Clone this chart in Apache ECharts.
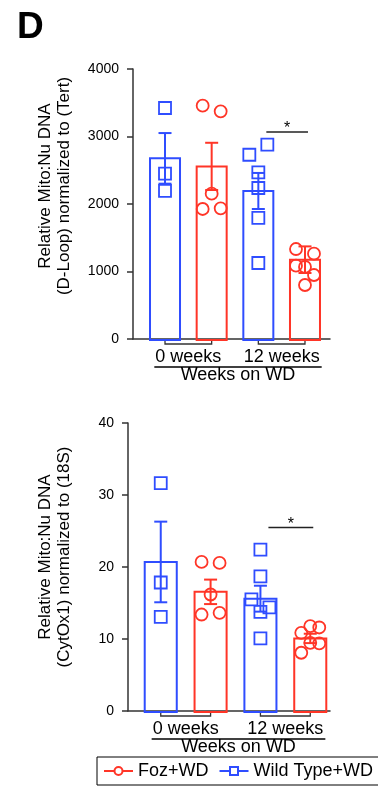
<!DOCTYPE html>
<html><head><meta charset="utf-8">
<script src="https://cdn.jsdelivr.net/npm/echarts@6/dist/echarts.min.js"></script>
<style>html,body{margin:0;padding:0;background:#fff}#c{width:378px;height:789px}</style>
</head><body><div id="c"></div>
<script>
// ---------- data ----------
const categories = ['0 weeks', '12 weeks'];
const seriesNames = ['Wild Type+WD', 'Foz+WD'];
const xAxisTitle = 'Weeks on WD';
const panelLabel = 'D';

// Panel 1: D-Loop normalized to Tert
const dloopTitle = ['Relative Mito:Nu DNA', '(D-Loop) normalized to (Tert)'];
const dloopTicks = [0, 1000, 2000, 3000, 4000];
const dloopWT_0w  = [3422, 2449, 2193];
const dloopFoz_0w = [3457, 3373, 2153, 1926, 1936];
const dloopWT_12w = [2730, 2879, 2469, 2237, 1793, 1126];
const dloopFoz_12w = [1333, 1264, 1086, 1067, 948, 800];
const dloopMeanWT  = [2676, 2193];
const dloopMeanFoz = [2557, 1175];
const dloopSemWT   = [375, 267];
const dloopSemFoz  = [350, 197];
const dloopSig = [3067];   // height of "*" bar (12 weeks comparison)

// Panel 2: CytOx1 normalized to 18S
const cytTitle = ['Relative Mito:Nu DNA', '(CytOx1) normalized to (18S)'];
const cytTicks = [0, 10, 20, 30, 40];
const cytWT_0w  = [31.66, 17.85, 13.08];
const cytFoz_0w = [20.7, 20.57, 16.18, 13.4, 13.63];
const cytWT_12w = [22.4, 18.7, 15.5, 14.38, 13.77, 10.08];
const cytFoz_12w = [10.86, 11.79, 11.6, 8.09, 9.47, 9.39];
const cytMeanWT  = [20.7, 15.6];
const cytMeanFoz = [16.55, 10.08];
const cytSemWT   = [5.6, 1.8];
const cytSemFoz  = [1.7, 0.65];
const cytSig = [25.5];

// ---------- styles ----------
const COLORS = ['#2f4dff', '#ff3527']; // WT blue, Foz red
const FONT = '"Liberation Sans", Arial, Helvetica, sans-serif';
const BAR_RATIO = 0.643;
const AXIS_COLOR = '#333';

function buildGroups(wt, foz, mWT, mFoz, sWT, sFoz) {
  // order: WT 0w, Foz 0w, WT 12w, Foz 12w
  const g = [];
  for (let c = 0; c < categories.length; c++) {
    g.push({pos: 2 * c + 1, s: 0, pts: wt[c], mean: mWT[c], sem: sWT[c]});
    g.push({pos: 2 * c + 2, s: 1, pts: foz[c], mean: mFoz[c], sem: sFoz[c]});
  }
  return g;
}
const panels = [
  {groups: buildGroups([dloopWT_0w, dloopWT_12w], [dloopFoz_0w, dloopFoz_12w], dloopMeanWT, dloopMeanFoz, dloopSemWT, dloopSemFoz),
   sig: dloopSig[0], ticks: dloopTicks, title: dloopTitle},
  {groups: buildGroups([cytWT_0w, cytWT_12w], [cytFoz_0w, cytFoz_12w], cytMeanWT, cytMeanFoz, cytSemWT, cytSemFoz),
   sig: cytSig[0], ticks: cytTicks, title: cytTitle}
];

function swarm(ys) {
  const order = ys.map((y, i) => i).sort((a, b) => ys[a] - ys[b]);
  const rows = [];
  let cur = null;
  order.forEach(i => {
    if (cur && ys[i] - cur.start < 12) cur.m.push(i);
    else { cur = {start: ys[i], m: [i]}; rows.push(cur); }
  });
  const off = new Array(ys.length).fill(0);
  rows.forEach(r => {
    r.m.sort((a, b) => a - b);
    const n = r.m.length;
    const s = n > 1 ? 18 / (n - 1) : 0;
    r.m.forEach((i, k) => { off[i] = (k - (n - 1) / 2) * s; });
  });
  return off;
}

const measCtx = document.createElement('canvas').getContext('2d');
function textW(t, size) { measCtx.font = size + 'px ' + FONT; return measCtx.measureText(t).width; }

const grids = [
  {left: 133, top: 69, width: 197, height: 270},
  {left: 128, top: 423, width: 202, height: 288}
];
const xRanges = [[0.314, 4.536], [0.343, 4.396]];

const series = [];
const xAxis = [], yAxis = [];
panels.forEach((p, pi) => {
  xAxis.push({gridIndex: pi, type: 'value', min: xRanges[pi][0], max: xRanges[pi][1],
    axisLine: {show: true, onZero: false, lineStyle: {color: AXIS_COLOR, width: 1.5}},
    axisTick: {show: false}, axisLabel: {show: false}, splitLine: {show: false}});
  const t = p.ticks;
  yAxis.push({gridIndex: pi, type: 'value', min: t[0], max: t[t.length - 1], interval: t[1] - t[0],
    axisLine: {show: true, lineStyle: {color: AXIS_COLOR, width: 1.5}},
    axisTick: {show: true, length: 6, lineStyle: {color: AXIS_COLOR, width: 1.5}},
    axisLabel: {color: '#000', fontSize: 14, fontFamily: FONT, margin: 14, formatter: v => String(v)},
    splitLine: {show: false}});

  // bars + error bars
  series.push({type: 'custom', xAxisIndex: pi, yAxisIndex: pi, clip: false, z: 2,
    data: p.groups.map(g => [g.pos, g.mean, g.sem, g.s]),
    renderItem: function (params, api) {
      const x = api.value(0), m = api.value(1), s = api.value(2), si = api.value(3);
      const color = COLORS[si];
      const base = api.coord([x, 0]), top = api.coord([x, m]);
      const hi = api.coord([x, m + s]), lo = api.coord([x, m - s]);
      const w = api.size([BAR_RATIO, 0])[0];
      const cap = 6.5;
      const st = {stroke: color, lineWidth: 2, fill: null};
      return {type: 'group', children: [
        {type: 'rect', shape: {x: base[0] - w / 2, y: top[1], width: w, height: base[1] - top[1] + 1}, style: {stroke: color, lineWidth: 2, fill: 'transparent'}},
        {type: 'line', shape: {x1: hi[0], y1: hi[1], x2: lo[0], y2: lo[1]}, style: st},
        {type: 'line', shape: {x1: hi[0] - cap, y1: hi[1], x2: hi[0] + cap, y2: hi[1]}, style: st},
        {type: 'line', shape: {x1: lo[0] - cap, y1: lo[1], x2: lo[0] + cap, y2: lo[1]}, style: st}
      ]};
    }});

  // points
  const pdata = [];
  p.groups.forEach((g, gi) => g.pts.forEach((v, k) => pdata.push([g.pos, v, g.s, gi, k])));
  series.push({type: 'custom', xAxisIndex: pi, yAxisIndex: pi, clip: false, z: 3,
    data: pdata,
    renderItem: function (params, api) {
      const x = api.value(0), v = api.value(1), si = api.value(2), gi = api.value(3), k = api.value(4);
      const vals = p.groups[gi].pts;
      const ys = vals.map(val => api.coord([x, val])[1]);
      const off = swarm(ys)[k];
      const c = api.coord([x, v]);
      const color = COLORS[si];
      const cx = c[0] + off, cy = c[1];
      if (si === 1) {
        return {type: 'circle', shape: {cx: cx, cy: cy, r: 6}, style: {stroke: color, lineWidth: 1.8, fill: 'transparent'}};
      }
      return {type: 'rect', shape: {x: cx - 6, y: cy - 6, width: 12, height: 12}, style: {stroke: color, lineWidth: 1.8, fill: 'transparent'}};
    }});

  // category brackets + labels
  series.push({type: 'custom', xAxisIndex: pi, yAxisIndex: pi, clip: false, z: 1, silent: true,
    data: categories.map((c, ci) => [ci]),
    renderItem: function (params, api) {
      const ci = api.value(0);
      const a = api.coord([2 * ci + 1, 0]), b = api.coord([2 * ci + 2, 0]);
      const y0 = a[1];
      return {type: 'group', children: [
        {type: 'polyline', shape: {points: [[a[0], y0 + 1], [a[0], y0 + 5], [b[0], y0 + 5], [b[0], y0 + 1]]}, style: {stroke: AXIS_COLOR, lineWidth: 1.3, fill: null}},
        {type: 'text', x: (a[0] + b[0]) / 2, y: y0 + 18.5, style: {text: categories[ci], font: '18px ' + FONT, fill: '#000', align: 'center', verticalAlign: 'middle'}}
      ]};
    }});

  // axis title with underline
  series.push({type: 'custom', xAxisIndex: pi, yAxisIndex: pi, clip: false, z: 1, silent: true,
    data: [[0]],
    renderItem: function (params, api) {
      const n = categories.length;
      const a = api.coord([1.5, 0]), b = api.coord([2 * n - 0.5, 0]);
      const left = a[0] - textW(categories[0], 18) / 2 - 1;
      const right = b[0] + textW(categories[n - 1], 18) / 2 + 2;
      const y0 = a[1];
      return {type: 'group', children: [
        {type: 'line', shape: {x1: left, y1: y0 + 28, x2: right, y2: y0 + 28}, style: {stroke: '#000', lineWidth: 1.3}},
        {type: 'text', x: (left + right) / 2, y: y0 + 36.5, style: {text: xAxisTitle, font: '18px ' + FONT, fill: '#000', align: 'center', verticalAlign: 'middle'}}
      ]};
    }});

  // significance bar
  series.push({type: 'custom', xAxisIndex: pi, yAxisIndex: pi, clip: false, z: 4, silent: true,
    data: [[3, 4, p.sig]],
    renderItem: function (params, api) {
      const a = api.coord([api.value(0), api.value(2)]), b = api.coord([api.value(1), api.value(2)]);
      const x1 = a[0] + 8, x2 = b[0] + 3;
      return {type: 'group', children: [
        {type: 'line', shape: {x1: x1, y1: a[1], x2: x2, y2: a[1]}, style: {stroke: '#222', lineWidth: 1.5}},
        {type: 'text', x: (x1 + x2) / 2, y: a[1] - 3, style: {text: '*', font: '16px ' + FONT, fill: '#000', align: 'center', verticalAlign: 'middle'}}
      ]};
    }});
});

// legend-only series
series.push({name: 'Foz+WD', type: 'line', xAxisIndex: 0, yAxisIndex: 0, data: [], symbol: 'emptyCircle', symbolSize: 9,
  itemStyle: {color: COLORS[1], borderWidth: 1.5}, lineStyle: {color: COLORS[1], width: 1.5}});
series.push({name: 'Wild Type+WD', type: 'line', xAxisIndex: 0, yAxisIndex: 0, data: [], symbol: 'emptyRect', symbolSize: 9,
  itemStyle: {color: COLORS[0], borderWidth: 1.5}, lineStyle: {color: COLORS[0], width: 1.5}});

const chart = echarts.init(document.getElementById('c'), null, {renderer: 'canvas'});
chart.setOption({
  animation: false,
  backgroundColor: '#fff',
  grid: grids,
  xAxis: xAxis,
  yAxis: yAxis,
  legend: {data: [seriesNames[1], seriesNames[0]], left: 97, top: 757, width: 320, orient: 'horizontal',
    padding: [5, 6], itemGap: 10, itemWidth: 29, itemHeight: 10,
    borderColor: '#000', borderWidth: 1,
    textStyle: {color: '#000', fontSize: 18, fontFamily: FONT}},
  graphic: [
    {type: 'text', left: 17, top: 9, style: {text: panelLabel, font: 'bold 37px ' + FONT, fill: '#000'}},
    {type: 'text', x: 55, y: 186, rotation: Math.PI / 2, style: {text: panels[0].title.join('\n'), font: '17px ' + FONT, lineHeight: 19, fill: '#000', align: 'center', verticalAlign: 'middle'}},
    {type: 'text', x: 55, y: 557, rotation: Math.PI / 2, style: {text: panels[1].title.join('\n'), font: '17px ' + FONT, lineHeight: 19, fill: '#000', align: 'center', verticalAlign: 'middle'}}
  ],
  series: series
});
</script>
</body></html>
